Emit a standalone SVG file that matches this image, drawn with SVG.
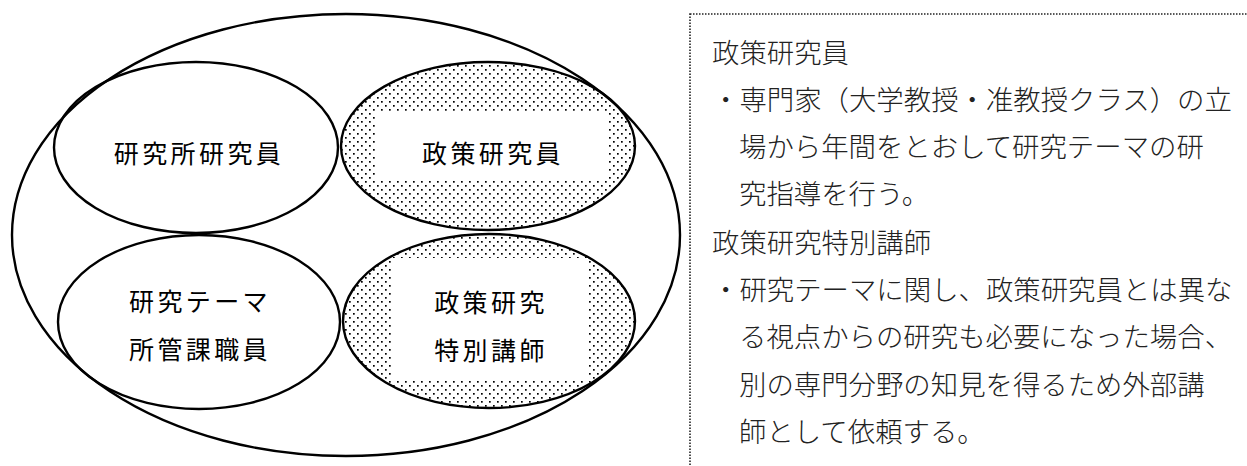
<svg xmlns="http://www.w3.org/2000/svg" width="1247" height="466" viewBox="0 0 1247 466">
  <style>
    .ell { fill: none; stroke: #000; stroke-width: 2.4; }
    .dot { fill: url(#dots); stroke: #000; stroke-width: 2.4; }
    .lbl { font-family: "Noto Sans CJK JP", "Noto Sans", sans-serif; font-size: 25px; font-weight: 400; letter-spacing: 3.4px; fill: #000; text-anchor: middle; dominant-baseline: central; }
    .desc { font-family: "Noto Sans CJK JP", "Noto Sans", sans-serif; font-size: 27.4px; font-weight: 300; fill: #222; dominant-baseline: central; }
    .box { fill: none; stroke: #222; stroke-width: 1.6; stroke-dasharray: 1.5 1.5; }
  </style>
  <defs>
    <pattern id="dots" x="0" y="0" width="8" height="8" patternUnits="userSpaceOnUse">
      <rect x="0" y="0" width="8" height="8" fill="#fff"/>
      <rect x="1" y="1" width="1.7" height="1.7" fill="#000"/>
      <rect x="5" y="5" width="1.7" height="1.7" fill="#000"/>
    </pattern>
  </defs>
  <rect x="0" y="0" width="1247" height="466" fill="#fff"/>

  <g id="node-kenkyusho">
    <ellipse class="ell" cx="196" cy="147.5" rx="142" ry="85.5"/>
    <text class="lbl" x="199" y="152">研究所研究員</text>
  </g>

  <g id="node-seisaku-kenkyuin">
    <ellipse class="dot" cx="488" cy="146" rx="147" ry="84"/>
    <rect x="377" y="113" width="230" height="67" fill="#fff"/>
    <text class="lbl" x="493" y="152">政策研究員</text>
  </g>

  <g id="node-shokan">
    <ellipse class="ell" cx="199" cy="322" rx="141" ry="87"/>
    <text class="lbl" x="200" y="300">研究テーマ</text>
    <text class="lbl" x="200" y="348">所管課職員</text>
  </g>

  <g id="node-tokubetsu">
    <ellipse class="dot" cx="489" cy="321" rx="146" ry="87"/>
    <rect x="392" y="258" width="196" height="123" fill="#fff"/>
    <text class="lbl" x="491" y="301">政策研究</text>
    <text class="lbl" x="491" y="349">特別講師</text>
  </g>

  <g id="node-outer">
    <ellipse class="ell" cx="346" cy="235" rx="334" ry="221" stroke-width="2.2"/>
  </g>

  <g id="connectors"></g>

  <g id="node-description">
    <rect class="box" x="690" y="14" width="600" height="500"/>
    <text class="desc" x="712" y="51">政策研究員</text>
    <text class="desc" x="712" y="98">・専門家（大学教授・准教授クラス）の立</text>
    <text class="desc" x="739" y="145">場から年間をとおして研究テーマの研</text>
    <text class="desc" x="739" y="192">究指導を行う。</text>
    <text class="desc" x="712" y="241">政策研究特別講師</text>
    <text class="desc" x="712" y="288">・研究テーマに関し、政策研究員とは異な</text>
    <text class="desc" x="739" y="335">る視点からの研究も必要になった場合、</text>
    <text class="desc" x="739" y="383">別の専門分野の知見を得るため外部講</text>
    <text class="desc" x="739" y="430">師として依頼する。</text>
  </g>
</svg>
